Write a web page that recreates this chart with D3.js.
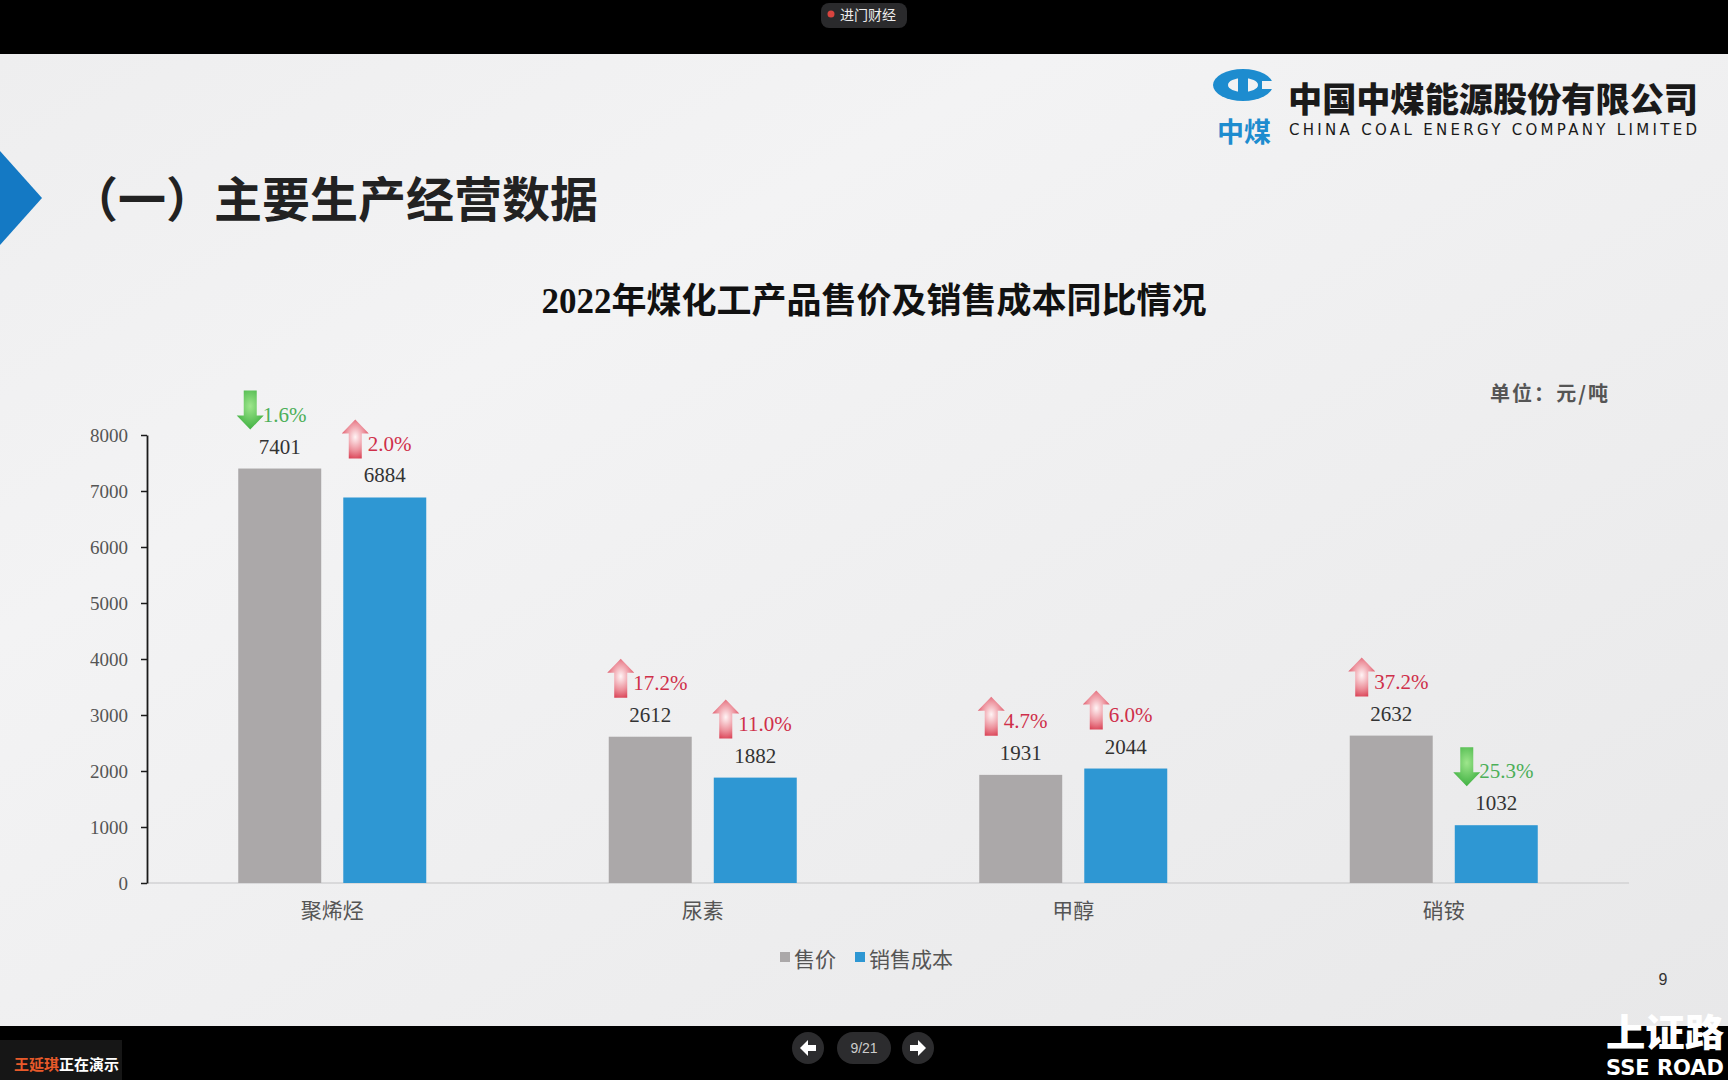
<!DOCTYPE html>
<html>
<head>
<meta charset="utf-8">
<script src="https://cdn.jsdelivr.net/npm/d3@7"></script>
<style>
body { margin: 0; background: #000; overflow: hidden; }
svg { display: block; }
</style>
</head>
<body>
<svg id="slide" width="1728" height="1080"></svg>
<script>
// data
const categories = ['聚烯烃', '尿素', '甲醇', '硝铵'];
const seriesNames = ['售价', '销售成本'];
const price = [7401, 2612, 1931, 2632];
const cost = [6884, 1882, 2044, 1032];
const priceYoY = [-1.6, 17.2, 4.7, 37.2];
const costYoY = [2.0, 11.0, 6.0, -25.3];
const yTicks = [0, 1000, 2000, 3000, 4000, 5000, 6000, 7000, 8000];

const svg = d3.select('#slide');
const W = +svg.attr('width');
const H = +svg.attr('height');
const serif = '"Liberation Serif", "Times New Roman", serif';
const cjk = '"Noto Sans CJK SC", "Noto Sans", sans-serif';
const colors = { '售价': '#aba8a9', '销售成本': '#2e97d3' };

const defs = svg.append('defs');
const red = defs.append('radialGradient').attr('id', 'redArrow')
    .attr('cx', 0.5).attr('cy', 0.45).attr('r', 0.65);
red.append('stop').attr('offset', 0).attr('stop-color', '#fff4f5');
red.append('stop').attr('offset', 0.55).attr('stop-color', '#ec8f9a');
red.append('stop').attr('offset', 1).attr('stop-color', '#d42a40');
const green = defs.append('radialGradient').attr('id', 'greenArrow')
    .attr('cx', 0.5).attr('cy', 0.4).attr('r', 0.7);
green.append('stop').attr('offset', 0).attr('stop-color', '#9ee68c');
green.append('stop').attr('offset', 1).attr('stop-color', '#32a937');
// soft faceted look done with gradients instead of polygons
const bg = defs.append('linearGradient').attr('id', 'bg')
    .attr('x1', 0).attr('y1', 0).attr('x2', 1).attr('y2', 1);
bg.append('stop').attr('offset', 0).attr('stop-color', '#eeeeef');
bg.append('stop').attr('offset', 0.3).attr('stop-color', '#f3f3f4');
bg.append('stop').attr('offset', 0.55).attr('stop-color', '#efeff0');
bg.append('stop').attr('offset', 1).attr('stop-color', '#e8e8e9');

// slide background
svg.append('rect').attr('width', W).attr('height', H).attr('fill', '#000');
svg.append('rect').attr('x', 0).attr('y', 54).attr('width', W).attr('height', 972).attr('fill', 'url(#bg)');

// header
svg.append('path').attr('d', 'M0,151 L42,198 L0,245 Z').attr('fill', '#1479c4');
svg.append('text').attr('x', 70).attr('y', 217)
    .attr('font-family', cjk).attr('font-weight', 700).attr('font-size', 48).attr('fill', '#222')
    .text('（一）主要生产经营数据');

// logo
const logo = svg.append('g').attr('fill', '#1d8ccf');
logo.append('ellipse').attr('cx', 1243).attr('cy', 85).attr('rx', 30).attr('ry', 16);
logo.append('ellipse').attr('cx', 1243).attr('cy', 85).attr('rx', 15).attr('ry', 7).attr('fill', '#f2f2f3');
logo.append('rect').attr('x', 1262).attr('y', 81).attr('width', 12).attr('height', 8).attr('fill', '#f2f2f3');
logo.append('rect').attr('x', 1238).attr('y', 70).attr('width', 10).attr('height', 30);
logo.append('text').attr('x', 1244).attr('y', 142).attr('text-anchor', 'middle')
    .attr('font-family', cjk).attr('font-weight', 700).attr('font-size', 27).text('中煤');
svg.append('text').attr('x', 1288).attr('y', 112)
    .attr('font-family', cjk).attr('font-weight', 900).attr('font-size', 34).attr('fill', '#1a1a1a')
    .attr('textLength', 410).attr('lengthAdjust', 'spacingAndGlyphs')
    .text('中国中煤能源股份有限公司');
svg.append('text').attr('x', 1289).attr('y', 135)
    .attr('font-family', '"DejaVu Sans", sans-serif').attr('font-size', 15).attr('fill', '#1a1a1a')
    .attr('textLength', 408).attr('lengthAdjust', 'spacing')
    .text('CHINA COAL ENERGY COMPANY LIMITED');

// chart title and unit
svg.append('text').attr('x', 874).attr('y', 313).attr('text-anchor', 'middle')
    .attr('font-family', serif + ', ' + cjk).attr('font-weight', 700).attr('font-size', 35).attr('fill', '#111')
    .text('2022年煤化工产品售价及销售成本同比情况');
svg.append('text').attr('x', 1490).attr('y', 401)
    .attr('font-family', cjk).attr('font-weight', 700).attr('font-size', 20).attr('fill', '#555')
    .attr('textLength', 118).attr('lengthAdjust', 'spacing')
    .text('单位：元/吨');

// chart
const margin = { top: 435, left: 147, right: 99, bottom: 197 };
const innerWidth = W - margin.left - margin.right;
const innerHeight = H - margin.top - margin.bottom;

const yScale = d3.scaleLinear().domain([0, 8000]).range([innerHeight, 0]);
const xScale = d3.scaleBand().domain(categories).range([0, innerWidth]).paddingInner(0);
const groupWidth = 188;
const xSeries = d3.scaleBand().domain(seriesNames).range([0, groupWidth]).paddingInner(0.21);

const rows = categories.map((c, i) => ({
    cat: c,
    values: [
        { s: seriesNames[0], v: price[i], yoy: priceYoY[i] },
        { s: seriesNames[1], v: cost[i], yoy: costYoY[i] }
    ]
}));

const g = svg.append('g').attr('transform', `translate(${margin.left},${margin.top})`);

g.append('line').attr('x1', 0).attr('x2', innerWidth)
    .attr('y1', innerHeight).attr('y2', innerHeight)
    .attr('stroke', '#d2d2d3').attr('stroke-width', 1.5);

const yAxisG = g.append('g')
    .call(d3.axisLeft(yScale).tickValues(yTicks).tickFormat(d3.format('d')).tickSize(6).tickSizeOuter(0).tickPadding(13));
yAxisG.select('.domain').attr('stroke', '#1a1a1a').attr('stroke-width', 1.8);
yAxisG.selectAll('.tick line').attr('stroke', '#1a1a1a').attr('stroke-width', 1.5);
yAxisG.selectAll('.tick text').attr('font-family', serif).attr('font-size', 19).attr('fill', '#555');

const groups = g.selectAll('.grp').data(rows).enter().append('g')
    .attr('class', 'grp')
    .attr('transform', d => `translate(${xScale(d.cat) + (xScale.bandwidth() - groupWidth) / 2},0)`);

const item = groups.selectAll('.item').data(d => d.values).enter().append('g').attr('class', 'item');

item.append('rect')
    .attr('x', d => xSeries(d.s))
    .attr('y', d => yScale(d.v))
    .attr('width', xSeries.bandwidth())
    .attr('height', d => innerHeight - yScale(d.v))
    .attr('fill', d => colors[d.s]);

item.append('text')
    .attr('x', d => xSeries(d.s) + xSeries.bandwidth() / 2)
    .attr('y', d => yScale(d.v) - 15)
    .attr('text-anchor', 'middle')
    .attr('font-family', serif).attr('font-size', 21).attr('fill', '#333')
    .text(d => d.v);

const upArrow = 'M13.5,0 L27,14 L20,14 L20,39 L7,39 L7,14 L0,14 Z';
const downArrow = 'M7,0 L20,0 L20,25 L27,25 L13.5,39 L0,25 L7,25 Z';

item.append('path')
    .attr('d', d => d.yoy >= 0 ? upArrow : downArrow)
    .attr('transform', d => `translate(${xSeries(d.s) + xSeries.bandwidth() / 2 - 43},${yScale(d.v) - 47 - 31})`)
    .attr('fill', d => d.yoy >= 0 ? 'url(#redArrow)' : 'url(#greenArrow)');

item.append('text')
    .attr('x', d => xSeries(d.s) + xSeries.bandwidth() / 2 - 17)
    .attr('y', d => yScale(d.v) - 47)
    .attr('font-family', serif).attr('font-size', 21)
    .attr('fill', d => d.yoy >= 0 ? '#cf2f4a' : '#4caf58')
    .text(d => Math.abs(d.yoy).toFixed(1) + '%');

g.append('g').selectAll('text').data(categories).enter().append('text')
    .attr('x', d => xScale(d) + xScale.bandwidth() / 2)
    .attr('y', innerHeight + 35)
    .attr('text-anchor', 'middle')
    .attr('font-family', cjk).attr('font-size', 21).attr('fill', '#555')
    .text(d => d);

// legend
const legendX = [780, 855];
const legend = svg.append('g').selectAll('g').data(seriesNames).enter().append('g')
    .attr('transform', (d, i) => `translate(${legendX[i]},952)`);
legend.append('rect').attr('width', 10).attr('height', 10).attr('fill', d => colors[d]);
legend.append('text').attr('x', 14).attr('y', 15)
    .attr('font-family', cjk).attr('font-size', 21).attr('fill', '#555')
    .text(d => d);

svg.append('text').attr('x', 1663).attr('y', 985).attr('text-anchor', 'middle')
    .attr('font-family', '"Liberation Sans", sans-serif').attr('font-size', 16).attr('fill', '#333').text('9');

// meeting overlay: top and bottom bars
svg.append('rect').attr('x', 821).attr('y', 3).attr('width', 86).attr('height', 25).attr('rx', 8).attr('fill', '#2a2a2c');
svg.append('circle').attr('cx', 831).attr('cy', 14).attr('r', 3.5).attr('fill', '#d9443f');
svg.append('text').attr('x', 840).attr('y', 20)
    .attr('font-family', cjk).attr('font-size', 14).attr('fill', '#eee').text('进门财经');

svg.append('rect').attr('x', 0).attr('y', 1040).attr('width', 122).attr('height', 40).attr('fill', '#161616');
const presenter = svg.append('text').attr('x', 14).attr('y', 1070)
    .attr('font-family', cjk).attr('font-size', 15).attr('font-weight', 700);
presenter.append('tspan').attr('fill', '#e85a2a').text('王延琪');
presenter.append('tspan').attr('fill', '#fff').text('正在演示');

svg.append('circle').attr('cx', 808).attr('cy', 1048).attr('r', 16).attr('fill', '#2c2c2e');
svg.append('circle').attr('cx', 918).attr('cy', 1048).attr('r', 16).attr('fill', '#2c2c2e');
svg.append('rect').attr('x', 837).attr('y', 1032).attr('width', 54).attr('height', 32).attr('rx', 16).attr('fill', '#2c2c2e');
svg.append('text').attr('x', 864).attr('y', 1053).attr('text-anchor', 'middle')
    .attr('font-family', '"Liberation Sans", sans-serif').attr('font-size', 14).attr('fill', '#ccc').text('9/21');
svg.append('path').attr('d', 'M800,1048 L808,1040 L808,1045 L816,1045 L816,1051 L808,1051 L808,1056 Z').attr('fill', '#fff');
svg.append('path').attr('d', 'M926,1048 L918,1040 L918,1045 L910,1045 L910,1051 L918,1051 L918,1056 Z').attr('fill', '#fff');

svg.append('text').attr('x', 1606).attr('y', 1046)
    .attr('font-family', cjk).attr('font-weight', 900).attr('font-size', 38).attr('fill', '#fff')
    .attr('textLength', 118).attr('lengthAdjust', 'spacingAndGlyphs').text('上证路');
svg.append('text').attr('x', 1606).attr('y', 1075)
    .attr('font-family', '"DejaVu Sans", sans-serif').attr('font-weight', 700).attr('font-size', 21).attr('fill', '#fff')
    .attr('textLength', 118).attr('lengthAdjust', 'spacingAndGlyphs').text('SSE ROAD');
</script>
</body>
</html>
